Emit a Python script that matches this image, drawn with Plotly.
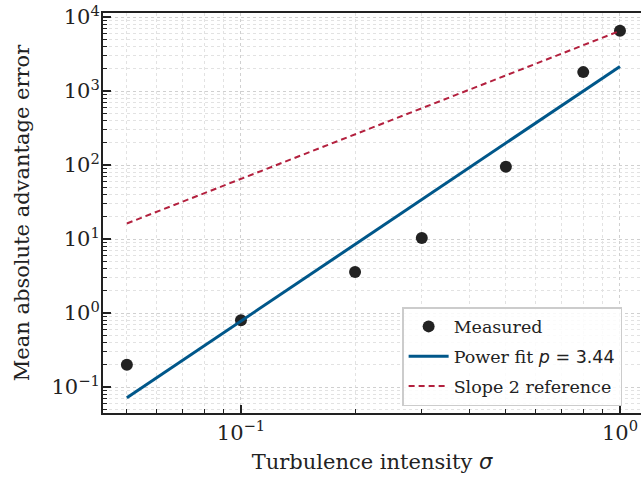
import numpy as np
import plotly.graph_objects as go

# Data
sigma = [0.05, 0.1, 0.2, 0.3, 0.5, 0.8, 1.0]
mae = [0.20, 0.80, 3.6, 10.3, 95.0, 1800.0, 6500.0]
fit_p = 3.44
fit_coef = 2150.0
ref_coef = 6500.0
ref_slope = 2.0

x_ticks = [0.1, 1.0]
x_ticktext = ["10<sup>\u22121</sup>", "10<sup>0</sup>"]
y_ticks = [0.1, 1, 10, 100, 1000, 10000]
y_ticktext = ["10<sup>\u22121</sup>", "10<sup>0</sup>", "10<sup>1</sup>",
              "10<sup>2</sup>", "10<sup>3</sup>", "10<sup>4</sup>"]

xs = np.array([min(sigma), max(sigma)])
fit_y = fit_coef * xs ** fit_p
ref_y = ref_coef * xs ** ref_slope

minor_vals = [k * 10.0 ** e for e in range(-3, 6) for k in range(2, 10)]

FONT = "DejaVu Serif"
INK = "#222222"

fig = go.Figure()
fig.add_trace(go.Scatter(x=sigma, y=mae, mode="markers", name="Measured",
                         legendgroup="a",
                         marker=dict(color=INK, size=12)))
fig.add_trace(go.Scatter(x=xs, y=fit_y, mode="lines",
                         name="Power fit <span style='font-family:DejaVu Sans'><i>p</i> = 3.44</span>",
                         legendgroup="b",
                         line=dict(color="#00578a", width=3)))
fig.add_trace(go.Scatter(x=xs, y=ref_y, mode="lines", name="Slope 2 reference",
                         legendgroup="c",
                         line=dict(color="#b3203e", width=2, dash="6px,4px")))

axis_common = dict(
    type="log", showline=True, linewidth=2, linecolor=INK,
    ticks="inside", ticklen=8, tickwidth=1.5, tickcolor=INK,
    showgrid=True, gridcolor="#d0d0d0", griddash="dot", gridwidth=1,
    zeroline=False, tickmode="array", automargin=False,
    ticklabeloverflow="allow",
    tickfont=dict(family=FONT, size=21, color=INK),
    minor=dict(tickmode="array", tickvals=minor_vals, ticks="inside",
               ticklen=4, tickwidth=1.2, tickcolor=INK, showgrid=True,
               gridcolor="#e2e2e2", griddash="dot", gridwidth=0.8),
)

fig.update_layout(
    width=641, height=479,
    margin=dict(l=103, r=0, t=13, b=66),
    plot_bgcolor="white", paper_bgcolor="white",
    font=dict(family=FONT, size=18, color=INK),
    xaxis=dict(axis_common, range=[-1.364, 0.0555], mirror=True,
               tickvals=x_ticks, ticktext=x_ticktext,
               title=dict(text="Turbulence intensity <span style='font-family:DejaVu Sans'><i>\u03c3</i></span>",
                          font=dict(family=FONT, size=21, color=INK), standoff=10)),
    yaxis=dict(axis_common, range=[-1.35, 4.054],
               tickvals=y_ticks, ticktext=y_ticktext, ticklabelstandoff=-3,
               title=dict(text="Mean absolute advantage error",
                          font=dict(family=FONT, size=21, color=INK), standoff=16)),
    legend=dict(x=0.556, y=0.0175, xanchor="left", yanchor="bottom",
                bgcolor="rgba(255,255,255,0.85)", bordercolor="#cccccc",
                borderwidth=1.5, font=dict(family=FONT, size=17.5, color=INK),
                itemwidth=40, tracegroupgap=4),
    showlegend=True,
)

fig.write_html("out.html", config={"displayModeBar": False},
               post_script="document.body.style.margin='0';document.body.style.overflow='hidden';")
